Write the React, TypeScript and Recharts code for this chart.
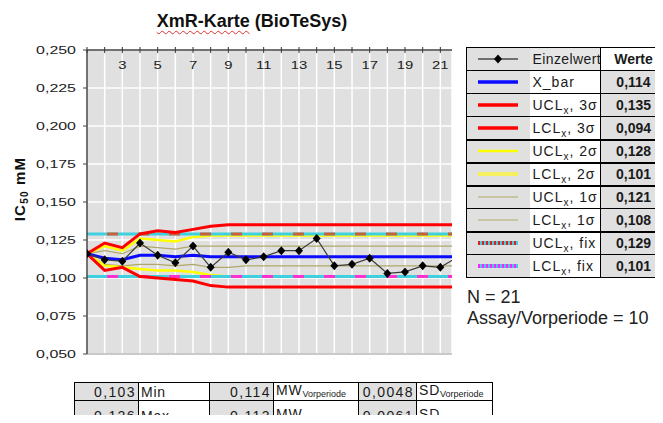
import React from 'react';
import { LineChart, Line, XAxis, YAxis, CartesianGrid, ReferenceLine } from 'recharts';

// ---------- data ----------
const xValues = [1, 2, 3, 4, 5, 6, 7, 8, 9, 10, 11, 12, 13, 14, 15, 16, 17, 18, 19, 20, 21, 22];
const einzelwert = [0.116, 0.112, 0.111, 0.123, 0.115, 0.110, 0.121, 0.107, 0.117, 0.112, 0.114, 0.118, 0.118, 0.126, 0.108, 0.109, 0.113, 0.103, 0.104, 0.108, 0.107, 0.114];
const xBar = [0.116, 0.113, 0.112, 0.115, 0.115, 0.114, 0.115, 0.114, 0.114, 0.114, 0.114, 0.114, 0.114, 0.114, 0.114, 0.114, 0.114, 0.114, 0.114, 0.114, 0.114, 0.114];
const ucl3 = [0.116, 0.123, 0.120, 0.129, 0.131, 0.130, 0.132, 0.134, 0.135, 0.135, 0.135, 0.135, 0.135, 0.135, 0.135, 0.135, 0.135, 0.135, 0.135, 0.135, 0.135, 0.135];
const lcl3 = [0.116, 0.105, 0.107, 0.101, 0.100, 0.099, 0.098, 0.095, 0.094, 0.094, 0.094, 0.094, 0.094, 0.094, 0.094, 0.094, 0.094, 0.094, 0.094, 0.094, 0.094, 0.094];
const ucl2 = [0.116, 0.121, 0.118, 0.126, 0.125, 0.124, 0.127, 0.128, 0.128, 0.128, 0.128, 0.128, 0.128, 0.128, 0.128, 0.128, 0.128, 0.128, 0.128, 0.128, 0.128, 0.128];
const lcl2 = [0.116, 0.108, 0.107, 0.106, 0.105, 0.105, 0.104, 0.102, 0.101, 0.101, 0.101, 0.101, 0.101, 0.101, 0.101, 0.101, 0.101, 0.101, 0.101, 0.101, 0.101, 0.101];
const ucl1 = [0.116, 0.118, 0.116, 0.121, 0.120, 0.119, 0.121, 0.121, 0.121, 0.121, 0.121, 0.121, 0.121, 0.121, 0.121, 0.121, 0.121, 0.121, 0.121, 0.121, 0.121, 0.121];
const lcl1 = [0.116, 0.109, 0.108, 0.109, 0.109, 0.108, 0.109, 0.107, 0.107, 0.108, 0.108, 0.108, 0.108, 0.108, 0.108, 0.108, 0.108, 0.108, 0.108, 0.108, 0.108, 0.108];
const uclFix = [0.129, 0.129, 0.129, 0.129, 0.129, 0.129, 0.129, 0.129, 0.129, 0.129, 0.129, 0.129, 0.129, 0.129, 0.129, 0.129, 0.129, 0.129, 0.129, 0.129, 0.129, 0.129];
const lclFix = [0.101, 0.101, 0.101, 0.101, 0.101, 0.101, 0.101, 0.101, 0.101, 0.101, 0.101, 0.101, 0.101, 0.101, 0.101, 0.101, 0.101, 0.101, 0.101, 0.101, 0.101, 0.101];

const yTicks = [0.05, 0.075, 0.1, 0.125, 0.15, 0.175, 0.2, 0.225, 0.25];
const xTicks = [1, 2, 3, 4, 5, 6, 7, 8, 9, 10, 11, 12, 13, 14, 15, 16, 17, 18, 19, 20, 21];
const xLabelValues = [3, 5, 7, 9, 11, 13, 15, 17, 19, 21];
const pointCount = 21;

const titleMain = 'XmR-Karte';
const titleRest = ' (BioTeSys)';

const legendHeader = ['Einzelwert', 'Werte'];
const legendNames = ['X_bar', 'UCL', 'LCL', 'UCL', 'LCL', 'UCL', 'LCL', 'UCL', 'LCL'];
const legendSubs = ['', 'x', 'x', 'x', 'x', 'x', 'x', 'x', 'x'];
const legendSuffixes = ['', ', 3σ', ', 3σ', ', 2σ', ', 2σ', ', 1σ', ', 1σ', ', fix', ', fix'];
const legendValues = ['0,114', '0,135', '0,094', '0,128', '0,101', '0,121', '0,108', '0,129', '0,101'];

const nText = 'N = 21';
const assayText = 'Assay/Vorperiode = 10';

const statValuesRow1 = ['0,103', '0,114', '0,0048'];
const statNamesRow1 = ['Min', 'MW', 'SD'];
const statSubsRow1 = ['', 'Vorperiode', 'Vorperiode'];
const statValuesRow2 = ['0,126', '0,113', '0,0061'];
const statNamesRow2 = ['Max', 'MW', 'SD'];
const statSubsRow2 = ['', 'gesamt', 'gesamt'];

// ---------- styles ----------
const FONT = '"Liberation Sans", Arial, sans-serif';
const RED = '#ff0000';
const BLUE = '#0a0aff';
const YELLOW = '#ffff00';
const OLIVE = '#b0a868';
const CYAN = '#3fd0e0';
const FIXUP = '#c8603a';
const FIXLO = '#ff30d0';

const legendSampleStyles = [
  { color: BLUE, width: 3.5 },
  { color: RED, width: 3.5 },
  { color: RED, width: 3.5 },
  { color: YELLOW, width: 2.5 },
  { color: '#f4f060', width: 4 },
  { color: OLIVE, width: 1.2 },
  { color: OLIVE, width: 1.2 },
  { color: CYAN, width: 4, dots: '#e02020' },
  { color: CYAN, width: 4, dots: '#ff20ff' },
];
const legendBottomBorders = [1, 1, 1, 2, 2, 2, 1, 2, 1, 1];

// stats grid layout
const statColWidths = [64, 71, 64, 85, 58, 76];
const statRowHeights = [18, 24];
const statLeft = 74;
const statTop = 382;

const data = xValues.map((x, i) => ({
  x,
  einzel: einzelwert[i],
  xbar: xBar[i],
  ucl3: ucl3[i],
  lcl3: lcl3[i],
  ucl2: ucl2[i],
  lcl2: lcl2[i],
  ucl1: ucl1[i],
  lcl1: lcl1[i],
  uclFix: uclFix[i],
  uclFixDash: uclFix[i],
  lclFix: lclFix[i],
  lclFixDash: lclFix[i],
}));

const XTick = (props: any) => {
  const { x, y, payload } = props;
  const v = payload.value;
  return (
    <g>
      <line x1={x} x2={x} y1={y - 3} y2={y + 3} stroke="#333" strokeWidth={1} />
      {xLabelValues.includes(v) ? (
        <text
          transform={`translate(${x},${y + 19}) scale(1.35,1)`}
          textAnchor="middle"
          fontSize={11}
          fontFamily={FONT}
          fill="#222"
        >
          {v}
        </text>
      ) : null}
    </g>
  );
};

const YTick = (props: any) => {
  const { x, y, payload } = props;
  const label = Number(payload.value).toFixed(3).replace('.', ',');
  return (
    <text
      transform={`translate(${x},${y}) scale(1.45,1)`}
      textAnchor="end"
      dy="0.36em"
      fontSize={11}
      fontFamily={FONT}
      fill="#222"
    >
      {label}
    </text>
  );
};

const Diamond = (props: any) => {
  const { cx, cy, index } = props;
  if (index >= pointCount || cx == null || cy == null) return <g key={`d${index}`} />;
  return (
    <path
      key={`d${index}`}
      d={`M${cx},${cy - 4.5}L${cx + 4},${cy}L${cx},${cy + 4.5}L${cx - 4},${cy}Z`}
      fill="#000"
    />
  );
};

const Sample = ({ i }: { i: number }) => {
  const s = legendSampleStyles[i];
  return (
    <svg width={44} height={10} style={{ display: 'block', margin: '0 auto' }}>
      <line x1={2} x2={42} y1={5} y2={5} stroke={s.color} strokeWidth={s.width} />
      {s.dots ? (
        <line x1={2} x2={42} y1={5} y2={5} stroke={s.dots} strokeWidth={s.width} strokeDasharray="2 2" />
      ) : null}
    </svg>
  );
};

const EinzelSample = () => (
  <svg width={44} height={10} style={{ display: 'block', margin: '0 auto' }}>
    <line x1={2} x2={42} y1={5} y2={5} stroke="#000" strokeWidth={1} />
    <path d="M22,0.5L26,5L22,9.5L18,5Z" fill="#000" />
  </svg>
);

const cellBase: React.CSSProperties = {
  padding: 0,
  borderLeft: 'none',
  borderRight: 'none',
  overflow: 'hidden',
  whiteSpace: 'nowrap',
};

const StatsGrid = () => {
  const rows = [
    { values: statValuesRow1, names: statNamesRow1, subs: statSubsRow1 },
    { values: statValuesRow2, names: statNamesRow2, subs: statSubsRow2 },
  ];
  const lefts: number[] = [];
  let acc = statLeft;
  statColWidths.forEach((w) => {
    lefts.push(acc);
    acc += w;
  });
  const cells: React.ReactNode[] = [];
  let top = statTop;
  rows.forEach((row, r) => {
    const h = statRowHeights[r];
    row.values.forEach((v, j) => {
      const ci = j * 2;
      cells.push(
        <div
          key={`v${r}${j}`}
          style={{
            position: 'absolute',
            left: lefts[ci],
            top,
            width: statColWidths[ci] + 1,
            height: h + 1,
            boxSizing: 'border-box',
            border: '1px solid #000',
            background: '#e0e0e0',
            overflow: 'hidden',
          }}
        >
          <span
            style={{
              position: 'absolute',
              right: 2,
              bottom: 0,
              lineHeight: '15px',
              fontSize: 14,
              letterSpacing: 1.4,
              whiteSpace: 'nowrap',
            }}
          >
            {v}
          </span>
        </div>
      );
      cells.push(
        <div
          key={`n${r}${j}`}
          style={{
            position: 'absolute',
            left: lefts[ci + 1],
            top,
            width: statColWidths[ci + 1] + 1,
            height: h + 1,
            boxSizing: 'border-box',
            border: '1px solid #000',
            background: '#fff',
            overflow: 'hidden',
          }}
        >
          <span
            style={{
              position: 'absolute',
              left: 2,
              bottom: 0,
              lineHeight: '15px',
              fontSize: 14,
              letterSpacing: 0.8,
              whiteSpace: 'nowrap',
            }}
          >
            {row.names[j]}
            {row.subs[j] ? (
              <span style={{ fontSize: 9, letterSpacing: 0, position: 'relative', top: 2 }}>{row.subs[j]}</span>
            ) : null}
          </span>
        </div>
      );
    });
    top += h;
  });
  return <>{cells}</>;
};

export default function App() {
  return (
    <div
      style={{
        position: 'relative',
        width: 663,
        height: 423,
        margin: -8,
        overflow: 'hidden',
        background: '#fff',
        fontFamily: FONT,
        color: '#1a1a1a',
      }}
    >
      <LineChart
        width={663}
        height={423}
        data={data}
        margin={{ top: 49, right: 211, bottom: 69, left: 0 }}
        style={{ position: 'absolute', left: 0, top: 0 }}
      >
        <CartesianGrid fill="#e0e0e0" stroke="#ffffff" strokeWidth={1.5} />
        <ReferenceLine y={0.05} stroke="#b8b8b8" strokeWidth={1.5} />
        <XAxis
          dataKey="x"
          type="number"
          domain={[1, 21.66]}
          allowDataOverflow
          ticks={xTicks}
          interval={0}
          orientation="top"
          height={1}
          tickSize={0}
          tickMargin={0}
          tickLine={false}
          tick={<XTick />}
          axisLine={{ stroke: '#444', strokeWidth: 1.5 }}
        />
        <YAxis
          type="number"
          domain={[0.05, 0.25]}
          ticks={yTicks}
          interval={0}
          width={87}
          tickSize={4}
          tickMargin={7}
          tick={<YTick />}
          tickLine={{ stroke: '#444' }}
          axisLine={{ stroke: '#444', strokeWidth: 1.5 }}
        />
        <Line dataKey="ucl1" stroke={OLIVE} strokeWidth={1.2} dot={false} activeDot={false} isAnimationActive={false} />
        <Line dataKey="lcl1" stroke={OLIVE} strokeWidth={1.2} dot={false} activeDot={false} isAnimationActive={false} />
        <Line dataKey="ucl2" stroke={YELLOW} strokeWidth={2.5} dot={false} activeDot={false} isAnimationActive={false} />
        <Line dataKey="lcl2" stroke={YELLOW} strokeWidth={2.5} dot={false} activeDot={false} isAnimationActive={false} />
        <Line dataKey="uclFix" stroke={CYAN} strokeWidth={3} dot={false} activeDot={false} isAnimationActive={false} />
        <Line dataKey="uclFixDash" stroke={FIXUP} strokeWidth={3} strokeDasharray="0 20 11 0" dot={false} activeDot={false} isAnimationActive={false} />
        <Line dataKey="lclFix" stroke={CYAN} strokeWidth={3} dot={false} activeDot={false} isAnimationActive={false} />
        <Line dataKey="lclFixDash" stroke={FIXLO} strokeWidth={3} strokeDasharray="0 20 11 0" dot={false} activeDot={false} isAnimationActive={false} />
        <Line dataKey="ucl3" stroke={RED} strokeWidth={3} dot={false} activeDot={false} isAnimationActive={false} />
        <Line dataKey="lcl3" stroke={RED} strokeWidth={3} dot={false} activeDot={false} isAnimationActive={false} />
        <Line dataKey="xbar" stroke={BLUE} strokeWidth={3} dot={false} activeDot={false} isAnimationActive={false} />
        <Line dataKey="einzel" stroke="#3a3a3a" strokeWidth={1.2} dot={Diamond} activeDot={false} isAnimationActive={false} />
      </LineChart>

      {/* title */}
      <div
        style={{
          position: 'absolute',
          left: 0,
          top: 11,
          width: 504,
          textAlign: 'center',
          fontSize: 18,
          fontWeight: 'bold',
          lineHeight: '20px',
          color: '#111',
          whiteSpace: 'nowrap',
        }}
      >
        <span style={{ textDecoration: 'underline wavy #e03030', textDecorationThickness: 1, textUnderlineOffset: 3 }}>
          {titleMain}
        </span>
        {titleRest}
      </div>

      {/* y axis title */}
      <div
        style={{
          position: 'absolute',
          left: 19,
          top: 189,
          transform: 'translate(-50%,-50%) rotate(-90deg)',
          fontSize: 15,
          fontWeight: 'bold',
          whiteSpace: 'nowrap',
          letterSpacing: 1.2,
          color: '#111',
        }}
      >
        IC<span style={{ fontSize: 10, position: 'relative', top: 3 }}>50</span> mM
      </div>

      {/* legend table */}
      <table
        style={{
          position: 'absolute',
          left: 466,
          top: 47,
          borderCollapse: 'collapse',
          tableLayout: 'fixed',
          width: 200,
          fontSize: 14,
          border: '1px solid #000',
        }}
      >
        <colgroup>
          <col style={{ width: 63 }} />
          <col style={{ width: 71 }} />
          <col style={{ width: 66 }} />
        </colgroup>
        <tbody>
          <tr style={{ height: 23 }}>
            <td style={{ ...cellBase, background: '#e0e0e0', borderBottom: `${legendBottomBorders[0]}px solid #000` }}>
              <EinzelSample />
            </td>
            <td style={{ ...cellBase, background: '#e6e6e6', paddingLeft: 3, letterSpacing: 0.4, borderBottom: `${legendBottomBorders[0]}px solid #000` }}>
              {legendHeader[0]}
            </td>
            <td style={{ ...cellBase, background: '#fff', textAlign: 'center', fontWeight: 'bold', borderLeft: '1.5px solid #000', borderBottom: `${legendBottomBorders[0]}px solid #000` }}>
              {legendHeader[1]}
            </td>
          </tr>
          {legendNames.map((name, i) => (
            <tr key={i} style={{ height: 23 }}>
              <td style={{ ...cellBase, background: '#e0e0e0', borderBottom: `${legendBottomBorders[i + 1]}px solid #000` }}>
                <Sample i={i} />
              </td>
              <td style={{ ...cellBase, background: '#fff', paddingLeft: 3, letterSpacing: 1, borderBottom: `${legendBottomBorders[i + 1]}px solid #000` }}>
                {name}
                {legendSubs[i] ? <span style={{ fontSize: 10, position: 'relative', top: 4 }}>{legendSubs[i]}</span> : null}
                {legendSuffixes[i]}
              </td>
              <td style={{ ...cellBase, background: '#e0e0e0', textAlign: 'center', fontWeight: 'bold', borderLeft: '1.5px solid #000', borderBottom: `${legendBottomBorders[i + 1]}px solid #000` }}>
                {legendValues[i]}
              </td>
            </tr>
          ))}
        </tbody>
      </table>

      {/* N text */}
      <div style={{ position: 'absolute', left: 467, top: 287, fontSize: 18, lineHeight: '20.5px', color: '#222', whiteSpace: 'nowrap' }}>
        <div>{nText}</div>
        <div>{assayText}</div>
      </div>

      {/* stats table */}
      <StatsGrid />
    </div>
  );
}
